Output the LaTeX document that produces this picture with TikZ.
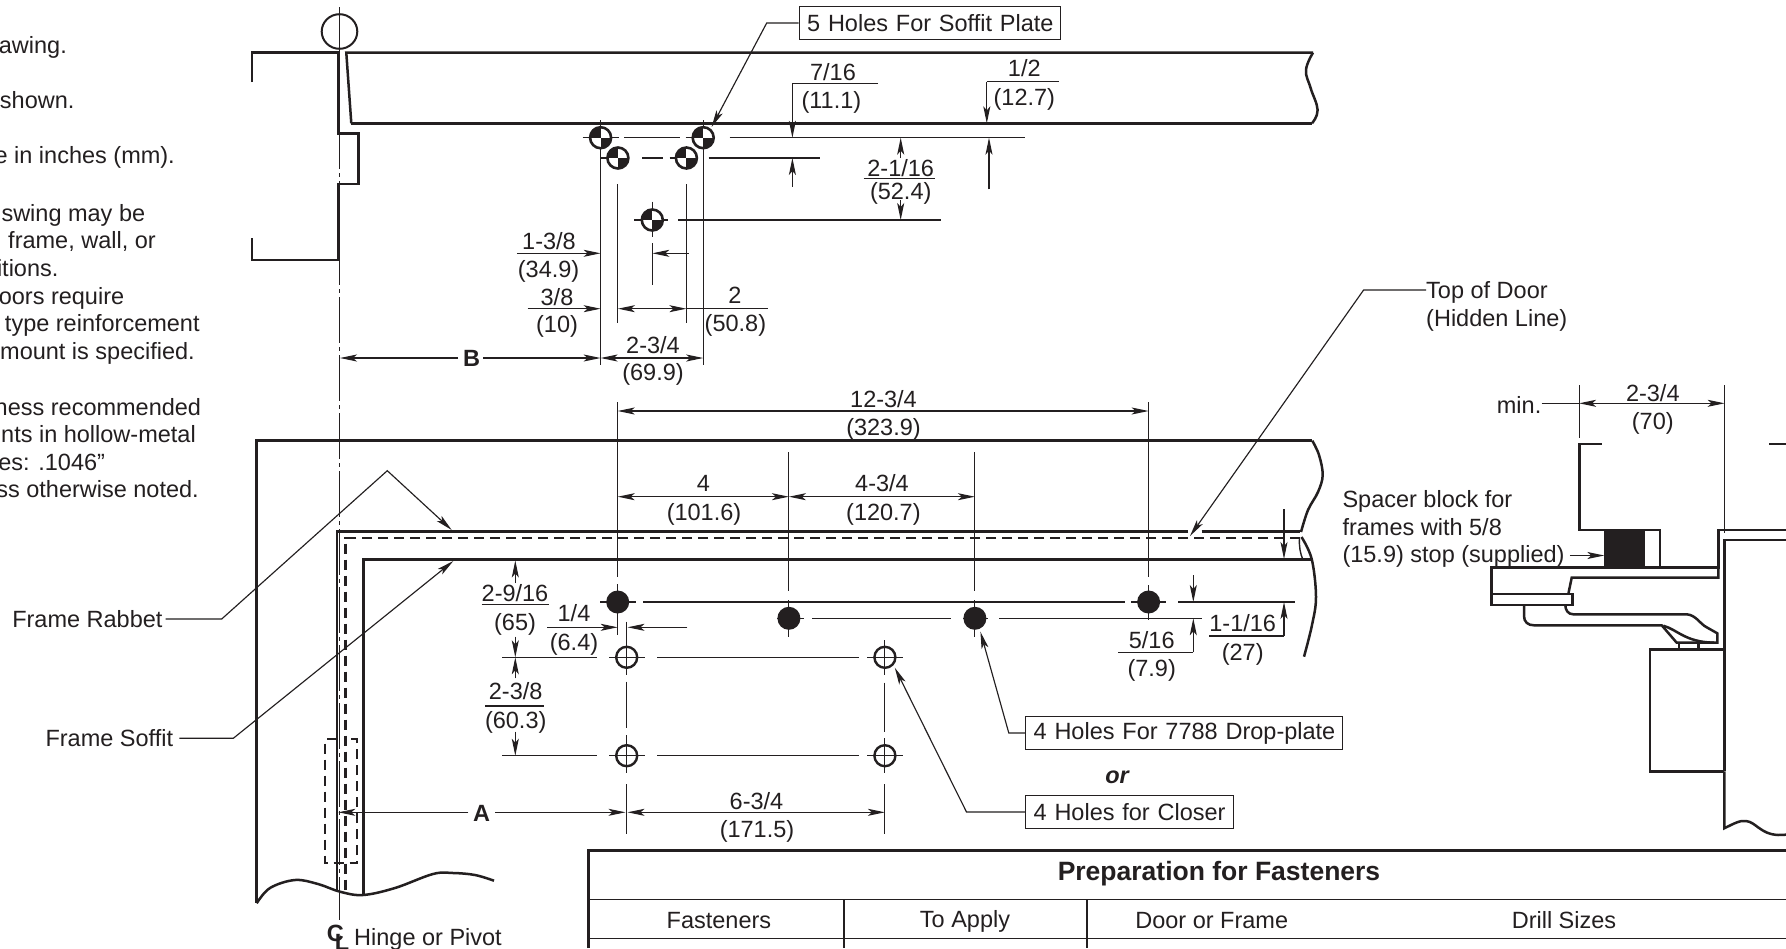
\documentclass[tikz,border=0pt]{standalone}
\usepackage{fontspec}
\setmainfont{Liberation Sans}
\usetikzlibrary{arrows.meta}
\definecolor{ink}{HTML}{231F20}
\tikzset{
  heavy/.style={draw=ink,line width=2.5pt,line join=miter},
  hidden/.style={draw=ink,line width=2.5pt,dash pattern=on 10.5pt off 5.5pt},
  thin line/.style={draw=ink,line width=1.15pt},
  centre/.style={draw=ink,line width=1pt,dash pattern=on 46pt off 4pt on 4pt off 4pt},
  dimto/.style={thin line,-{Stealth[length=17pt,width=7pt,inset=4pt]}},
  dimboth/.style={thin line,{Stealth[length=17pt,width=7pt,inset=4pt]}-{Stealth[length=17pt,width=7pt,inset=4pt]}},
  lbl/.style={inner sep=0pt,text=ink,font=\fontsize{23.5}{27}\selectfont,text height=17pt,text depth=0pt},
  note/.style={lbl,anchor=east},
  lft/.style={lbl,anchor=west},
  boldlbl/.style={lbl,font=\fontsize{23.5}{27}\selectfont\bfseries},
  boxed/.style={draw=ink,line width=1.2pt,minimum height=32.5pt,inner sep=0pt,text=ink,anchor=west,align=left,font=\fontsize{23.5}{27}\selectfont},
}
\newcommand{\holeCG}[2]{%
  \draw[ink,line width=2.6pt,fill=white] (#1,#2) circle[radius=10.5pt];
  \begin{scope}
    \clip (#1,#2) circle[radius=10.5pt];
    \fill[ink] (#1-12,#2-12) rectangle (#1,#2);
    \fill[ink] (#1,#2) rectangle (#1+12,#2+12);
  \end{scope}}
\newcommand{\holeSolid}[2]{\fill[ink] (#1,#2) circle[radius=11.5pt];}
\newcommand{\holeOpen}[2]{\draw[ink,line width=2.4pt,fill=white] (#1,#2) circle[radius=10.5pt];}
\begin{document}
\begin{tikzpicture}[x=1pt,y=-1pt]
\useasboundingbox[fill=white] (0,0) rectangle (1786,948);
% ---------- cut notes at the left
\node[note] (n1) at (67,45) {awing.};
\node[note] (n2) at (74.6,100) {shown.};
\node[note] (n3) at (175,155) {e in inches (mm).};
\node[note] (n4) at (145.4,213) {swing may be};
\node[note] (n5) at (156,240) {frame, wall, or};
\node[note] (n6) at (58.6,267.5) {itions.};
\node[note] (n7) at (124.4,296) {oors require};
\node[note] (n8) at (199.8,323.3) {type reinforcement};
\node[note] (n9) at (195,350.7) {mount is specified.};
\node[note] (n10) at (201.3,406.7) {ness recommended};
\node[note] (n11) at (196,434.3) {nts in hollow-metal};
\node[note] (n12) at (105.2,461.7) {es: .1046"};
\node[note] (n13) at (199,489.3) {ss otherwise noted.};

% ---------- top view: frame and door
\draw[centre] (339.7,7) -- (339.7,920);
\draw[ink,line width=2pt] (339.5,31.5) ellipse[x radius=17.8pt,y radius=17.3pt];
\draw[heavy] (252,82) -- (252,52.7) -- (338.4,52.7) -- (338.4,133.3) -- (358.6,133.3) -- (358.6,184) -- (338.4,184) -- (338.4,260) -- (252,260) -- (252,238);
\draw[heavy] (351.3,123.3) -- (346.3,52.7) -- (1313,52.7);
\draw[heavy] (351.3,123.3) -- (1312,123.3);
\draw[heavy] plot[smooth,tension=.7] coordinates {(1313,52.7) (1306,70) (1310.6,88) (1317.6,110) (1312,123.3)};

% centre lines of the soffit holes
\foreach \a/\b/\c in {137.7/582.7/618.6,137.7/624.4/680,137.7/685.6/714.3,137.7/729.6/1025.4,
  158/600/628,158/642.4/662.6,158/669.5/697,158/708.6/819.6,220/634/668.4,220/678/940.9}
  \draw[thin line] (\b,\a) -- (\c,\a);
\foreach \a/\b/\c in {600.6/120/365,703.2/120/365,617.9/147/169,617.9/184/322.7,686.4/147/169,686.4/184/322.7,
  652.3/201.7/236.7,652.3/243.3/285}
  \draw[thin line] (\a,\b) -- (\a,\c);
\holeCG{600.6}{137.7}
\holeCG{617.9}{158}
\holeCG{686.4}{158}
\holeCG{703.2}{137.7}
\holeCG{652.3}{220}

% box and leader
\node[boxed,minimum width=261.4pt,text width=261.4pt] (box5) at (798.5,23) {\hspace*{8pt}5 Holes For Soffit Plate};
\coordinate (box5bend) at (766.7,23);
\coordinate (box5tip) at (711.6,127);
\draw[dimto] (box5.west) -- (box5bend) -- (box5tip);

% dimensions top
\node[lbl] (d716) at (833,71.7) {7/16};
\node[lbl] (d716m) at (831.4,100) {(11.1)};
\draw[thin line] (878,83.3) -- (792.4,83.3);
\draw[dimto] (792.4,83.3) -- (792.4,137.7);
\draw[dimto] (792.4,186.7) -- (792.4,158);
\node[lbl] (d12) at (1024.3,68.3) {1/2};
\node[lbl] (d12m) at (1024.3,96.7) {(12.7)};
\draw[thin line] (1058.7,81.7) -- (986.8,81.7);
\draw[dimto] (986.8,81.7) -- (986.8,123.3);
\draw[dimto] (989,189.3) -- (989,137.7);
\node[lbl] (d2116) at (900.7,168.3) {2-1/16};
\node[lbl] (d2116m) at (900.7,190.7) {(52.4)};
\draw[thin line] (863.6,178.7) -- (935,178.7);
\draw[dimto] (900.7,158) -- (900.7,137.7);
\draw[dimto] (900.7,200) -- (900.7,220);
\node[lbl] (d138) at (549,241) {1-3/8};
\node[lbl] (d138m) at (548.6,269.3) {(34.9)};
\draw[dimto] (516.8,253.3) -- (600.6,253.3);
\draw[dimto] (688.7,253.3) -- (652.3,253.3);
\node[lbl] (d38) at (557,296.7) {3/8};
\node[lbl] (d38m) at (557,324) {(10)};
\draw[dimto] (527.6,308.7) -- (600.6,308.7);
\node[lbl] (d2) at (735,295) {2};
\node[lbl] (d2m) at (735.4,323) {(50.8)};
\draw[dimboth] (617.9,308.7) -- (686.4,308.7);
\draw[thin line] (686.4,308.7) -- (767.9,308.7);
\node[lbl] (d234) at (653,345) {2-3/4};
\node[lbl] (d234m) at (653,372.3) {(69.9)};
\draw[dimboth] (600.6,358) -- (703.2,358);
\node[boldlbl] (dB) at (471.5,358.3) {B};
\draw[dimto] (458,358) -- (340,358);
\draw[dimto] (483,358) -- (600.6,358);

% ---------- lower view: door outline
\draw[heavy] (1312.3,440.7) -- (256.7,440.7) -- (256.7,903.3);
\draw[heavy] plot[smooth,tension=.6] coordinates {(256.7,903.3) (270,888) (295,880) (318,884) (340,891.7) (363,895) (395,888) (433,874) (453,873) (475,875) (494,880.7)};
\draw[heavy] plot[smooth,tension=.6] coordinates {(1312.3,440.7) (1319,455) (1322.7,475) (1318,492) (1308,510) (1301,532)};
\draw[heavy] plot[smooth,tension=.6] coordinates {(1301.5,537) (1311.7,559) (1316,596.7) (1312,625) (1304,656.7)};
\draw[ink,line width=1.4pt] (1299.5,538) .. controls (1299,546) and (1300,553) .. (1303,560);
% frame rabbet, hidden door top, soffit
\draw[heavy] (1188,531.7) -- (336.9,531.7) -- (336.9,891.7);
\draw[heavy] (1201.7,531.7) -- (1300,531.7);
\draw[hidden] (1300,538) -- (345.7,538) -- (345.7,893);
\draw[heavy] (1311.7,559.6) -- (363.3,559.6) -- (363.3,895);
\draw[ink,line width=2.3pt,dash pattern=on 10.5pt off 5.5pt] (337,739.3) -- (325.3,739.3) -- (325.3,863.3) -- (357.3,863.3) -- (357.3,739.3) -- (345,739.3);

% centre lines of the lower holes
\foreach \a/\b/\c in {602/600/636,602/643.3/1124.7,602/1131/1166,602/1178.4/1295.3,
  618.3/777.4/803.8,618.3/812/950.5,618.3/963/988,618.3/999/1201.8,
  657.3/502.3/596.7,657.3/609/645,657.3/657.3/858.5,657.3/867/903.3,
  755.7/502.3/596.7,755.7/609/645,755.7/657.3/858.5,755.7/867/903.3}
  \draw[thin line] (\b,\a) -- (\c,\a);
\foreach \a/\b/\c in {617.7/402/576.7,617.7/584/635,788.9/452/590.7,788.9/600/636.7,974.9/452/590.7,974.9/600/636.7,
  1148.6/402/577.3,1148.6/585/620,
  626.7/621.7/675,626.7/681.7/728.3,626.7/735/773.3,626.7/784/834,
  884.9/640/675,884.9/682.7/731.7,884.9/738/773,884.9/784/834}
  \draw[thin line] (\a,\b) -- (\a,\c);
\holeSolid{617.7}{602}
\holeSolid{788.9}{618.3}
\holeSolid{974.9}{618.3}
\holeSolid{1148.6}{602}
\holeOpen{626.7}{657.3}
\holeOpen{884.9}{657.3}
\holeOpen{626.7}{755.7}
\holeOpen{884.9}{755.7}
\draw[thin line] (615.7,657.3) -- (637.7,657.3) (626.7,646.3) -- (626.7,668.3);
\draw[thin line] (873.9,657.3) -- (895.9,657.3) (884.9,646.3) -- (884.9,668.3);
\draw[thin line] (615.7,755.7) -- (637.7,755.7) (626.7,744.7) -- (626.7,766.7);
\draw[thin line] (873.9,755.7) -- (895.9,755.7) (884.9,744.7) -- (884.9,766.7);

% leader labels
\node[lbl,anchor=east] (rabbet) at (162.7,619) {Frame Rabbet};
\coordinate (rabbetA) at (221.7,619);
\coordinate (rabbetB) at (387.3,470.7);
\coordinate (rabbetT) at (451.7,530);
\draw[dimto] (rabbet.east) ++(3,0) -- (rabbetA) -- (rabbetB) -- (rabbetT);
\node[lbl,anchor=east] (soffit) at (173.3,738.3) {Frame Soffit};
\coordinate (soffitA) at (233.3,738.3);
\coordinate (soffitT) at (453.3,561);
\draw[dimto] (soffit.east) ++(6,0) -- (soffitA) -- (soffitT);
\node[lft] (topdoor) at (1426,290) {Top of Door};
\node[lft] (hidden) at (1426,318.3) {(Hidden Line)};
\coordinate (topA) at (1363.6,290);
\coordinate (topT) at (1190,536);
\draw[dimto] (topdoor.west) -- (topA) -- (topT);
\node[lft] (cl1) at (354,936.7) {Hinge or Pivot};
\node[boldlbl,anchor=center] (cl) at (338,933) {C\hspace*{-9pt}\raisebox{-9pt}{L}};

% dimensions lower
\node[lbl] (d1234) at (883.5,398.6) {12-3/4};
\node[lbl] (d1234m) at (883.5,426.5) {(323.9)};
\draw[dimboth] (617.7,411) -- (1148.6,411);
\node[lbl] (d4) at (703.5,483) {4};
\node[lbl] (d4m) at (704,511.7) {(101.6)};
\draw[dimboth] (617.7,496.7) -- (788.9,496.7);
\node[lbl] (d434) at (882,483) {4-3/4};
\node[lbl] (d434m) at (883.4,511.7) {(120.7)};
\draw[dimboth] (788.9,496.7) -- (974.9,496.7);
\node[lbl] (d2916) at (515,593.3) {2-9/16};
\node[lbl] (d2916m) at (515,621.7) {(65)};
\draw[thin line] (481.7,604.7) -- (549,604.7);
\draw[dimto] (515.3,583) -- (515.3,560.5);
\draw[dimto] (515.3,636.7) -- (515.3,657.3);
\node[lbl] (d14) at (574,613.3) {1/4};
\node[lbl] (d14m) at (574,641.7) {(6.4)};
\draw[dimto] (547.3,627.3) -- (617.7,627.3);
\draw[dimto] (687.3,627.3) -- (627.5,627.3);
\node[lbl] (d238) at (515.7,691) {2-3/8};
\node[lbl] (d238m) at (515.7,720) {(60.3)};
\draw[thin line] (485,706) -- (544,706);
\draw[dimto] (515.3,678.3) -- (515.3,657.3);
\draw[dimto] (515.3,731.7) -- (515.3,755.7);
\node[boldlbl] (dA) at (481.7,813) {A};
\draw[dimto] (468.3,812.3) -- (338.3,812.3);
\draw[dimto] (495,812.3) -- (625.5,812.3);
\node[lbl] (d634) at (756.5,801) {6-3/4};
\node[lbl] (d634m) at (757,829) {(171.5)};
\draw[dimboth] (627.5,812.3) -- (884.9,812.3);
\node[lbl] (d516) at (1151.7,640) {5/16};
\node[lbl] (d516m) at (1151.7,668.3) {(7.9)};
\draw[thin line] (1118.3,652.3) -- (1193.3,652.3);
\draw[dimto] (1193.3,652.3) -- (1193.3,618.3);
\draw[dimto] (1193.3,575) -- (1193.3,602);
\node[lbl] (d1116) at (1242.7,623.3) {1-1/16};
\node[lbl] (d1116m) at (1242.7,651.7) {(27)};
\draw[thin line] (1209,636) -- (1284,636);
\draw[dimto] (1284,636) -- (1284,602);
\draw[dimto] (1284,509.3) -- (1284,559);

% boxes lower
\node[boxed,minimum width=317pt,text width=317pt] (box4a) at (1025,733) {\hspace*{8pt}4 Holes For 7788 Drop-plate};
\coordinate (box4aB) at (1008.8,733);
\coordinate (box4aT) at (980.4,631.7);
\draw[dimto] (box4a.west) -- (box4aB) -- (box4aT);
\node[boldlbl,font=\fontsize{23.5}{27}\selectfont\bfseries\itshape] (or) at (1117,775) {or};
\node[boxed,minimum width=207.6pt,text width=207.6pt] (box4b) at (1025,812) {\hspace*{8pt}4 Holes for Closer};
\coordinate (box4bB) at (966.5,812);
\coordinate (box4bT) at (894.8,667.7);
\draw[dimto] (box4b.west) -- (box4bB) -- (box4bT);

% ---------- section at the right
\node[lft] (s1) at (1342.3,499) {Spacer block for};
\node[lft] (s2) at (1342.3,526.5) {frames with 5/8};
\node[lft] (s3) at (1342.3,553.8) {(15.9) stop (supplied)};
\coordinate (sblock) at (1604.3,555.5);
\draw[dimto] (s3.east) ++(5,1.7) -- (sblock);
\node[lbl,anchor=east] (smin) at (1541.5,405) {min.};
\draw[thin line] (1541.5,403.3) -- (1579.1,403.3);
\draw[dimboth] (1579.1,403.3) -- (1724.6,403.3);
\draw[thin line] (1579.1,385) -- (1579.1,438.3);
\draw[thin line] (1724.6,385) -- (1724.6,533.3);
\node[lbl] (s234) at (1652.8,393.3) {2-3/4};
\node[lbl] (s70) at (1652.8,420.7) {(70)};
\draw[heavy] (1601.6,444) -- (1579.3,444) -- (1579.3,530) -- (1660,530) -- (1660,567.3);
\draw[heavy] (1769.3,444) -- (1786,444);
\fill[ink] (1604.3,529) rectangle (1645,568.3);
\draw[heavy] (1491.7,594) -- (1491.7,567.3) -- (1718.3,567.3) -- (1718.3,530) -- (1786,530);
\draw[heavy] (1718.3,567.3) -- (1718.3,577.7) -- (1571.7,577.7) -- (1568.3,594);
\draw[heavy] (1491.7,594) rectangle (1572.7,605);
\draw[heavy] (1524,605) -- (1524,616) .. controls (1524,622) and (1528,625.3) .. (1534,625.3) -- (1661.7,625.3) -- (1676.7,642.7) -- (1717.3,642.7) -- (1717.3,633.3) -- (1706.7,627.3) .. controls (1700,624) and (1696,615) .. (1686.7,614.3) -- (1573.3,614.3) .. controls (1568,614.3) and (1565.3,610) .. (1565.3,605);
\draw[heavy] (1663.3,625.7) .. controls (1678,630) and (1685,642) .. (1714,642.7);
\draw[heavy] (1679,642.7) -- (1679,649.3);
\draw[heavy] (1698.3,642.7) -- (1698.3,649.3);
\draw[heavy] (1724.3,649.3) -- (1650,649.3) -- (1650,771.3) -- (1724.3,771.3);
\draw[heavy,line width=2.8pt] (1786,540) -- (1724.3,540) -- (1724.3,771.3);
\draw[heavy] (1724.3,771.3) -- (1724.3,828.3) .. controls (1733,824) and (1740,820) .. (1746,821) .. controls (1756,822) and (1760,834) .. (1778,835) -- (1786,834.7);

% ---------- table
\draw[ink,line width=3pt] (588.4,948) -- (588.4,850) -- (1786,850);
\draw[ink,line width=1.4pt] (588.4,899.3) -- (1786,899.3);
\draw[ink,line width=1.4pt] (588.4,938.3) -- (1786,938.3);
\draw[ink,line width=1.2pt] (844,899.3) -- (844,948);
\draw[ink,line width=1.2pt] (1087,899.3) -- (1087,948);
\node[boldlbl,font=\fontsize{26.5}{30}\selectfont\bfseries] (tt) at (1219,872.3) {Preparation for Fasteners};
\node[lbl] (t1) at (718.9,920) {Fasteners};
\node[lbl] (t2) at (965,919) {To Apply};
\node[lbl] (t3) at (1211.7,920) {Door or Frame};
\node[lbl] (t4) at (1564,920) {Drill Sizes};
\end{tikzpicture}
\end{document}
